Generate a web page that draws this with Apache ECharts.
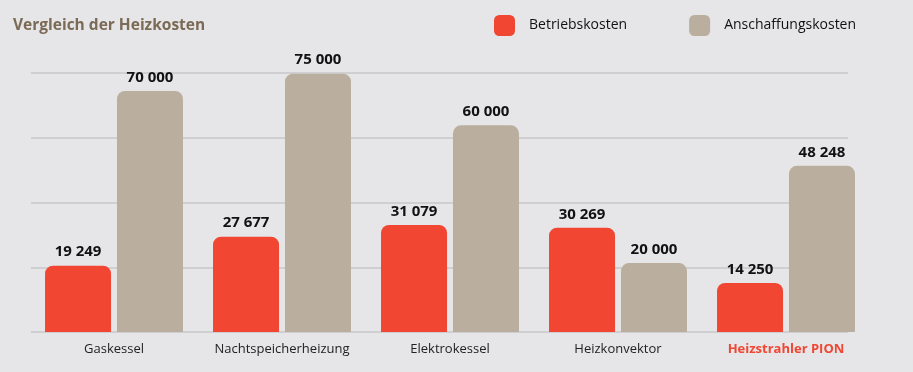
<!DOCTYPE html>
<html><head><meta charset="utf-8">
<script src="https://cdn.jsdelivr.net/npm/echarts@6/dist/echarts.min.js"></script>
<style>html,body{margin:0;padding:0;background:#e6e6e8}#c{width:913px;height:372px}</style>
</head><body><div id="c"></div>
<script>
const categories = ['Gaskessel','Nachtspeicherheizung','Elektrokessel','Heizkonvektor','Heizstrahler PION'];
const betriebskosten = [19249, 27677, 31079, 30269, 14250];
const anschaffungskosten = [70000, 75000, 60000, 20000, 48248];
const seriesNames = ['Betriebskosten','Anschaffungskosten'];
const title = 'Vergleich der Heizkosten';

const fmt = v => String(v).replace(/\B(?=(\d{3})+(?!\d))/g, ' ');
const yMax = 75200, yInt = 18800;
const labelStyle = {show:true, position:'top', distance:6, fontFamily:'Open Sans', fontWeight:'bold', fontSize:15, color:'#111',
  formatter: p => fmt(p.value)};

const chart = echarts.init(document.getElementById('c'));
chart.setOption({
  backgroundColor:'#e6e6e8',
  animation:false,
  title:{text:title, left:8, top:13, textStyle:{fontFamily:'Open Sans', fontWeight:'bold', fontSize:15.5, color:'#7b6a55'}},
  legend:{left:489, top:10, itemWidth:21, itemHeight:21, itemGap:62, icon:'roundRect',
    textStyle:{fontFamily:'Open Sans', fontSize:14, color:'#111', padding:[0,0,0,9]},
    data:seriesNames},
  grid:[
    {left:30, right:43, top:73, bottom:40},
    {left:31, right:65, top:73, bottom:40}
  ],
  xAxis:[
    {type:'category', gridIndex:0, data:categories, axisLine:{show:false}, axisTick:{show:false},
     axisLabel:{interval:0, margin:11, fontFamily:'Open Sans', fontSize:13, color:'#222',
       formatter:(v,i)=> i===categories.length-1 ? '{pion|'+v+'}' : v,
       rich:{pion:{fontFamily:'Open Sans', fontWeight:'bold', fontSize:13, color:'#f04632'}}}},
    {type:'value', gridIndex:1, show:false}
  ],
  yAxis:[
    {type:'value', gridIndex:0, min:0, max:yMax, interval:yInt, show:false, splitLine:{show:false}},
    {type:'value', gridIndex:1, min:0, max:yMax, interval:yInt, axisLine:{show:false}, axisTick:{show:false}, axisLabel:{show:false},
     splitLine:{show:true, lineStyle:{color:'#cfcfd1', width:2}}, z:0}
  ],
  series:[
    {name:seriesNames[0], type:'bar', xAxisIndex:0, yAxisIndex:0, data:betriebskosten, barWidth:66, barGap:'9%',
     itemStyle:{color:'#f04632', borderRadius:[8,8,0,0]}, label:labelStyle},
    {name:seriesNames[1], type:'bar', xAxisIndex:0, yAxisIndex:0, data:anschaffungskosten, barWidth:66, barGap:'9%',
     itemStyle:{color:'#baae9f', borderRadius:[8,8,0,0]}, label:labelStyle}
  ]
});
</script></body></html>
